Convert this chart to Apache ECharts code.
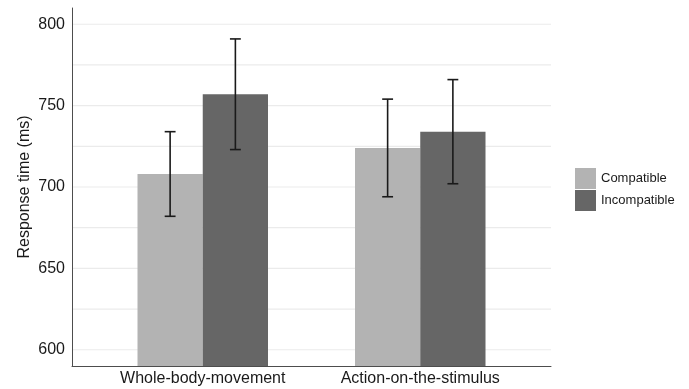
<!DOCTYPE html>
<html>
<head>
<meta charset="utf-8">
<script src="https://cdn.jsdelivr.net/npm/echarts@6/dist/echarts.min.js"></script>
<style>html,body{margin:0;padding:0;background:#fff;}#c{width:689px;height:389px;}</style>
</head>
<body>
<div id="c"></div>
<script>
const categories = ['Whole-body-movement', 'Action-on-the-stimulus'];
const seriesNames = ['Compatible', 'Incompatible'];
const compatibleMean = [708, 724];
const compatibleLow = [682, 694];
const compatibleHigh = [734, 754];
const incompatibleMean = [757, 734];
const incompatibleLow = [723, 702];
const incompatibleHigh = [791, 766];
const yTickLabels = [600, 650, 700, 750, 800];
const gridValues = [600, 625, 650, 675, 700, 725, 750, 775, 800];

const FONT = '"Liberation Sans", Arial, Helvetica, sans-serif';
const chart = echarts.init(document.getElementById('c'), null, {renderer: 'canvas'});

function errorSeries(name, low, high, offset) {
  return {
    type: 'custom',
    name: name + ' error',
    xAxisIndex: 0, yAxisIndex: 0,
    z: 5,
    silent: true,
    data: categories.map((c, i) => [i, low[i], high[i]]),
    renderItem: function (params, api) {
      const i = api.value(0);
      const band = api.size([1, 0])[0];
      const pLow = api.coord([i, api.value(1)]);
      const pHigh = api.coord([i, api.value(2)]);
      const x = pLow[0] + offset * band;
      const cap = 0.025 * band;
      const style = {stroke: '#1a1a1a', lineWidth: 1.6, fill: null};
      return {
        type: 'group',
        children: [
          {type: 'line', shape: {x1: x, y1: pLow[1], x2: x, y2: pHigh[1]}, style: style},
          {type: 'line', shape: {x1: x - cap, y1: pLow[1], x2: x + cap, y2: pLow[1]}, style: style},
          {type: 'line', shape: {x1: x - cap, y1: pHigh[1], x2: x + cap, y2: pHigh[1]}, style: style}
        ]
      };
    }
  };
}

const option = {
  animation: false,
  backgroundColor: '#ffffff',
  textStyle: {fontFamily: FONT},
  grid: [
    {left: 94, right: 160, top: 8, bottom: 23},
    {left: 72, right: 138, top: 8, bottom: 23}
  ],
  legend: {
    orient: 'vertical',
    left: 575,
    top: 168,
    padding: 0,
    itemWidth: 21,
    itemHeight: 21,
    itemGap: 1,
    icon: 'rect',
    data: seriesNames,
    textStyle: {fontSize: 13, color: '#1a1a1a', fontFamily: FONT}
  },
  xAxis: [
    {
      type: 'category', gridIndex: 0, data: categories,
      axisLine: {show: false}, axisTick: {show: false},
      axisLabel: {fontSize: 16, color: '#1a1a1a', margin: 5, fontFamily: FONT},
      splitLine: {show: false}
    },
    {
      type: 'value', gridIndex: 1, min: 0, max: 1,
      axisLine: {show: true, onZero: false, lineStyle: {color: '#4d4d4d', width: 1}},
      axisTick: {show: false}, axisLabel: {show: false}, splitLine: {show: false}
    }
  ],
  yAxis: [
    {
      type: 'value', gridIndex: 0, min: 590, max: 810, show: false,
      splitLine: {show: false}
    },
    {
      type: 'value', gridIndex: 1, min: 590, max: 810, interval: 10,
      name: 'Response time (ms)', nameLocation: 'middle', nameGap: 39,
      nameMoveOverlap: false,
      nameTextStyle: {fontSize: 16, color: '#1a1a1a', fontFamily: FONT},
      axisLine: {show: true, onZero: false, lineStyle: {color: '#4d4d4d', width: 1}},
      axisTick: {show: false},
      splitLine: {show: false},
      axisLabel: {
        fontSize: 16, color: '#1a1a1a', margin: 7, fontFamily: FONT,
        showMinLabel: true, showMaxLabel: true,
        formatter: function (v) { return yTickLabels.indexOf(v) >= 0 ? String(v) : ''; }
      }
    }
  ],
  series: [
    {
      type: 'custom',
      name: 'grid',
      xAxisIndex: 1, yAxisIndex: 1,
      z: 0,
      silent: true,
      data: gridValues.map(v => [v]),
      renderItem: function (params, api) {
        const v = api.value(0);
        const a = api.coord([0, v]);
        const b = api.coord([1, v]);
        return {type: 'line', shape: {x1: a[0] + 1, y1: a[1], x2: b[0], y2: b[1]},
          style: {stroke: '#ebebeb', lineWidth: 1.2}};
      }
    },
    {
      type: 'bar', name: seriesNames[0], xAxisIndex: 0, yAxisIndex: 0,
      data: compatibleMean, barWidth: '30%', barGap: '0%', z: 2,
      itemStyle: {color: '#b3b3b3'}
    },
    {
      type: 'bar', name: seriesNames[1], xAxisIndex: 0, yAxisIndex: 0,
      data: incompatibleMean, barWidth: '30%', barGap: '0%', z: 2,
      itemStyle: {color: '#666666'}
    },
    errorSeries(seriesNames[0], compatibleLow, compatibleHigh, -0.15),
    errorSeries(seriesNames[1], incompatibleLow, incompatibleHigh, 0.15)
  ]
};
chart.setOption(option);
</script>
</body>
</html>
